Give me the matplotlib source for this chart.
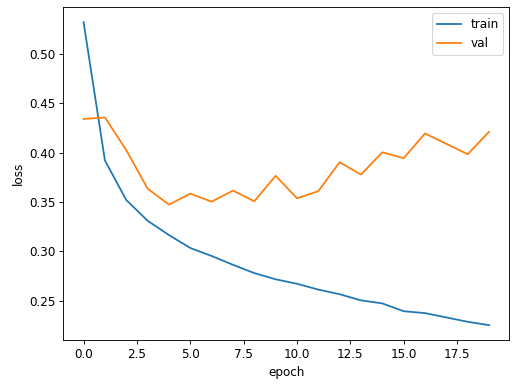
import matplotlib
matplotlib.use("Agg")
import matplotlib.pyplot as plt

epochs = list(range(20))
train_loss = [0.532, 0.392, 0.352, 0.331, 0.3165, 0.3034, 0.2953, 0.2864, 0.278, 0.2717,
              0.2672, 0.2613, 0.2566, 0.2504, 0.2473, 0.2394, 0.2375, 0.2331, 0.2287, 0.2253]
val_loss = [0.434, 0.4355, 0.4025, 0.3635, 0.3473, 0.3584, 0.3503, 0.3615, 0.3507, 0.3765,
            0.3537, 0.3609, 0.3902, 0.3777, 0.4003, 0.3943, 0.4193, 0.4088, 0.3983, 0.421]

plt.rcParams['font.size'] = 10.8
plt.rcParams['lines.linewidth'] = 1.6

W, H = 512, 388
fig = plt.figure(figsize=(W / 80, H / 80), dpi=80)
ax = fig.add_axes([63.3 / W, 1 - 340.3 / H, (509.3 - 63.3) / W, (340.3 - 7) / H])
ax.plot(epochs, train_loss, label="train")
ax.plot(epochs, val_loss, label="val")
ax.set_xlabel("epoch")
ax.set_ylabel("loss")
ax.legend()
fig.savefig("out.png", dpi=80)
